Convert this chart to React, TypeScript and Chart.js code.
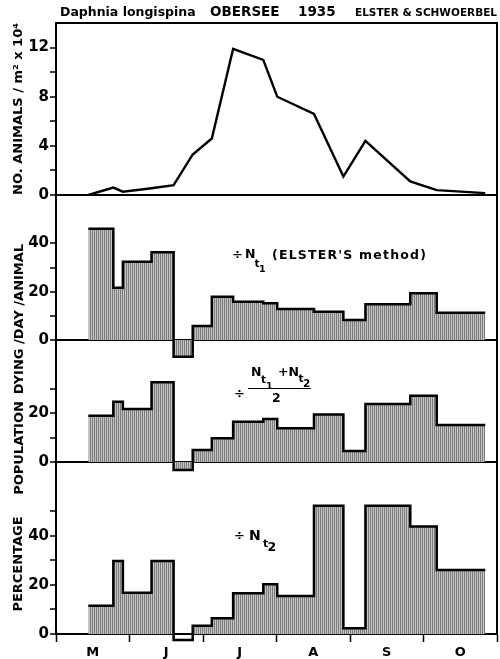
import React, { useEffect, useRef } from 'react';
import { Chart, registerables } from 'chart.js';

Chart.register(...registerables);

const FONT = "'DejaVu Sans', sans-serif";

// Sampling dates, in months counted from 1 May 1935 (0 = 1 May, 6 = 31 Oct)
const SAMPLE_MONTHS = [0.44, 0.78, 0.91, 1.3, 1.6, 1.86, 2.12, 2.41, 2.82, 3.01, 3.51, 3.91, 4.21, 4.82, 5.18, 5.84];
const MONTH_LABELS = ['M', 'J', 'J', 'A', 'S', 'O'];

// Number of animals per m² (x 10^4) at each sampling date
const ANIMALS = [0, 0.6, 0.27, 0.55, 0.8, 3.3, 4.6, 11.9, 11.0, 8.0, 6.6, 1.5, 4.4, 1.1, 0.4, 0.15];

// Percentage of the population dying per day, one value per sampling interval
const DYING_NT1 = [46, 21.6, 32.4, 36.3, -6.9, 5.8, 17.9, 15.8, 15.2, 12.8, 11.7, 8.3, 14.8, 19.3, 11.3];
const DYING_MEAN = [19, 24.7, 21.7, 32.7, -3.3, 4.9, 9.7, 16.5, 17.6, 13.8, 19.5, 4.5, 23.8, 27.2, 15.2];
const DYING_NT2 = [11.5, 29.7, 16.8, 29.7, -2.4, 3.4, 6.4, 16.6, 20.2, 15.5, 52.2, 2.3, 52.2, 43.7, 26];

// Labelled ticks per panel
const TICKS_ANIMALS = [0, 4, 8, 12];
const TICKS_NT1 = [0, 20, 40];
const TICKS_MEAN = [0, 20];
const TICKS_NT2 = [0, 20, 40];

const CLEAR = 'rgba(0,0,0,0)';

// interval values held from one sampling date to the next
const steps = (vals: number[]) =>
  SAMPLE_MONTHS.map((x, i) => ({ x, y: vals[Math.min(i, vals.length - 1)] }));

// fine vertical ruling used to shade the bars
function makeHatch(ctx: CanvasRenderingContext2D) {
  const c = document.createElement('canvas');
  c.width = 2;
  c.height = 2;
  const g = c.getContext('2d')!;
  g.fillStyle = '#c4c4c4';
  g.fillRect(0, 0, 2, 2);
  g.fillStyle = '#7c7c7c';
  g.fillRect(0, 0, 1, 2);
  return ctx.createPattern(c, 'repeat')!;
}

function panelScale(
  min: number,
  max: number,
  step: number,
  labels: number[],
  lastTick: number,
  weight: number,
  stackWeight: number
) {
  return {
    type: 'linear',
    position: 'left',
    stack: 'panels',
    stackWeight,
    weight,
    min,
    max,
    z: 1,
    afterFit: (s: any) => {
      s.width = 56;
    },
    border: { display: true, color: '#000', width: 2 },
    grid: {
      drawOnChartArea: true,
      color: (c: any) => (c.tick && c.tick.value === 0 ? '#000' : CLEAR),
      lineWidth: 2,
      drawTicks: true,
      tickLength: 6,
      tickWidth: 1.5,
      tickColor: (c: any) => (c.tick && c.tick.value <= lastTick ? '#000' : CLEAR),
    },
    ticks: {
      stepSize: step,
      autoSkip: false,
      padding: 1,
      color: '#000',
      font: { family: FONT, weight: 'bold', size: 15 },
      callback: (v: number) => (labels.includes(v) ? String(v) : ''),
    },
  };
}

const framePlugin = {
  id: 'frame',
  afterDraw(chart: any) {
    const { ctx, chartArea: a } = chart;
    ctx.save();
    ctx.strokeStyle = '#000';
    ctx.lineWidth = 2;
    ctx.beginPath();
    ctx.moveTo(a.left, a.top);
    ctx.lineTo(a.right, a.top);
    ctx.lineTo(a.right, a.bottom);
    ctx.stroke();
    ctx.restore();
  },
};

// text placed by its baseline
const T = ({ x, b, size, spacing, children }: any) => (
  <span
    style={{
      position: 'absolute',
      left: x,
      top: b - 0.846 * size,
      fontSize: size,
      lineHeight: 1,
      whiteSpace: 'nowrap',
      letterSpacing: spacing,
    }}
  >
    {children}
  </span>
);

// vertical text centred on (cx, cy), reading bottom to top
const V = ({ cx, cy, size, children }: any) => (
  <span
    style={{
      position: 'absolute',
      left: cx,
      top: cy,
      fontSize: size,
      lineHeight: 1,
      whiteSpace: 'nowrap',
      transform: 'translate(-50%, -50%) rotate(-90deg)',
    }}
  >
    {children}
  </span>
);

export default function App() {
  const ref = useRef<HTMLCanvasElement>(null);

  useEffect(() => {
    const canvas = ref.current!;
    const ctx = canvas.getContext('2d')!;
    const hatch = makeHatch(ctx);

    const stepSet = (vals: number[], axis: string) => ({
      data: steps(vals),
      yAxisID: axis,
      xAxisID: 'x',
      stepped: 'before',
      borderColor: '#000',
      borderWidth: 2.5,
      pointRadius: 0,
      fill: 'origin',
      backgroundColor: hatch,
      clip: false,
    });

    const chart = new Chart(ctx, {
      type: 'line',
      data: {
        datasets: [
          {
            data: SAMPLE_MONTHS.map((x, i) => ({ x, y: ANIMALS[i] })),
            yAxisID: 'yN',
            xAxisID: 'x',
            borderColor: '#000',
            borderWidth: 2.4,
            pointRadius: 0,
            tension: 0,
            fill: false,
          },
          stepSet(DYING_NT1, 'yA'),
          stepSet(DYING_MEAN, 'yB'),
          stepSet(DYING_NT2, 'yC'),
        ] as any,
      },
      options: {
        animation: false,
        responsive: false,
        devicePixelRatio: 1,
        layout: { padding: { left: 0, right: 3, top: 23, bottom: 0 } },
        plugins: { legend: { display: false }, tooltip: { enabled: false } },
        scales: {
          x: {
            type: 'linear',
            position: 'bottom',
            min: 0,
            max: 6,
            z: 1,
            afterFit: (s: any) => {
              s.height = 25;
            },
            border: { display: true, color: '#000', width: 2 },
            grid: {
              drawOnChartArea: false,
              tickLength: 8,
              tickWidth: 1.5,
              tickColor: (c: any) => (c.tick && Number.isInteger(c.tick.value) ? '#000' : CLEAR),
            },
            ticks: {
              stepSize: 0.5,
              autoSkip: false,
              maxRotation: 0,
              padding: 3,
              color: '#000',
              font: { family: FONT, weight: 'bold', size: 13 },
              callback: (v: number) => (Number.isInteger(v) ? '' : MONTH_LABELS[Math.floor(v)]),
            },
          },
          yN: panelScale(0, 14, 2, TICKS_ANIMALS, 12, 4, 172),
          yA: panelScale(0, 60, 10, TICKS_NT1, 40, 3, 145),
          yB: panelScale(0, 50, 10, TICKS_MEAN, 30, 2, 122),
          yC: panelScale(0, 70, 10, TICKS_NT2, 50, 1, 172),
        } as any,
      },
      plugins: [framePlugin],
    });
    return () => chart.destroy();
  }, []);

  return (
    <div
      style={{
        position: 'fixed',
        left: 0,
        top: 0,
        width: 500,
        height: 659,
        background: '#fff',
        overflow: 'hidden',
        fontFamily: FONT,
        fontWeight: 'bold',
        color: '#000',
      }}
    >
      <canvas ref={ref} width={500} height={659} style={{ position: 'absolute', left: 0, top: 0 }} />

      {/* header */}
      <T x={60} b={17} size={12.5}>Daphnia longispina</T>
      <T x={210} b={16.5} size={13.5}>OBERSEE</T>
      <T x={298} b={16.5} size={13.5}>1935</T>
      <T x={355} b={16} size={10.5}>ELSTER &amp; SCHWOERBEL</T>

      {/* axis titles */}
      <V cx={17} cy={109} size={13}>NO. ANIMALS / m² x 10⁴</V>
      <V cx={18} cy={319} size={13}>DYING /DAY /ANIMAL</V>
      <V cx={17.5} cy={448} size={13}>POPULATION</V>
      <V cx={17} cy={563.5} size={13}>PERCENTAGE</V>

      {/* panel 2: divided by N at t1 */}
      <T x={232} b={259} size={13}>÷</T>
      <T x={245} b={258.5} size={12.5}>N</T>
      <T x={254.5} b={267} size={10.5}>t</T>
      <T x={259} b={272} size={9.5}>1</T>
      <T x={272} b={259.5} size={12.5} spacing={1.2}>(ELSTER'S method)</T>

      {/* panel 3: divided by the mean of N at t1 and t2 */}
      <T x={234} b={398} size={13}>÷</T>
      <T x={251} b={377} size={12.5}>N</T>
      <T x={261} b={382.5} size={10.5}>t</T>
      <T x={266} b={389} size={9.5}>1</T>
      <T x={278} b={377} size={12.5}>+N</T>
      <T x={298.5} b={382} size={10.5}>t</T>
      <T x={303} b={387} size={10.5}>2</T>
      <span style={{ position: 'absolute', left: 248, top: 387.5, width: 63, height: 1.5, background: '#000' }} />
      <T x={272} b={403} size={12.5}>2</T>

      {/* panel 4: divided by N at t2 */}
      <T x={234} b={539.5} size={13}>÷</T>
      <T x={249} b={540} size={14}>N</T>
      <T x={263} b={547} size={11}>t</T>
      <T x={267.5} b={552} size={12.5}>2</T>
    </div>
  );
}
